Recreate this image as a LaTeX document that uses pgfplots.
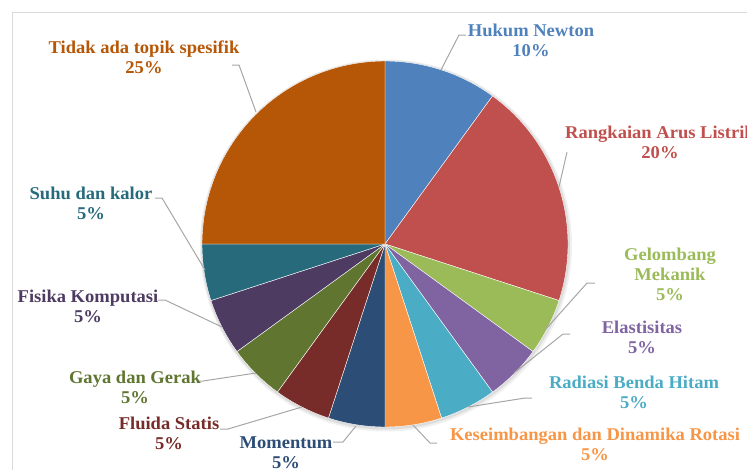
\documentclass[border=0pt]{standalone}
\usepackage{pgfplots}
\pgfplotsset{compat=1.18}
\usepackage{fontspec}
\setmainfont[FakeStretch=1.03]{Liberation Serif}
\definecolor{cNewton}{HTML}{4F81BD}
\definecolor{cListrik}{HTML}{C0504D}
\definecolor{cGel}{HTML}{9BBB59}
\definecolor{cElas}{HTML}{8064A2}
\definecolor{cRad}{HTML}{4BACC6}
\definecolor{cKes}{HTML}{F79646}
\definecolor{cMom}{HTML}{2C4D75}
\definecolor{cFlu}{HTML}{772C2A}
\definecolor{cGaya}{HTML}{5F7530}
\definecolor{cFis}{HTML}{4D3B62}
\definecolor{cSuhu}{HTML}{276A7C}
\definecolor{cTidak}{HTML}{B65708}
\definecolor{leader}{HTML}{A6A6A6}
\definecolor{frame}{HTML}{D9D9D9}
% #1 cumulative start (%), #2 cumulative end (%), #3 colour
\newcommand\slice[3]{%
  \fill[#3, draw=white, line width=0.4pt, line join=round]
    (axis cs:385,244) -- ++({90-3.6*#1}:183pt)
    arc[start angle={90-3.6*#1}, end angle={90-3.6*#2}, radius=183pt] -- cycle;}
\begin{document}
\begin{tikzpicture}
\begin{axis}[at={(0,0)}, anchor=south west, x=1pt, y=1pt,
  xmin=0, xmax=747, ymin=0, ymax=469, y dir=reverse,
  hide axis, clip=false]
% chart frame
\draw[frame, line width=1pt] (axis cs:12.5,480) -- (axis cs:12.5,12.5) -- (axis cs:760,12.5);
% shadow
\fill[black, opacity=0.06] (axis cs:386,245.5) circle[radius=186pt];
\fill[black, opacity=0.08] (axis cs:385.5,245) circle[radius=184.5pt];
% slices (cumulative percentages)
\slice{0}{10}{cNewton}
\slice{10}{30}{cListrik}
\slice{30}{35}{cGel}
\slice{35}{40}{cElas}
\slice{40}{45}{cRad}
\slice{45}{50}{cKes}
\slice{50}{55}{cMom}
\slice{55}{60}{cFlu}
\slice{60}{65}{cGaya}
\slice{65}{70}{cFis}
\slice{70}{75}{cSuhu}
\slice{75}{100}{cTidak}
% leader lines
\begin{scope}[leader, line width=1pt]
\draw (axis cs:232,65) -- (axis cs:239,65) -- (axis cs:256,112);
\draw (axis cs:466,35) -- (axis cs:459,35) -- (axis cs:441,70);
\draw (axis cs:567,152) -- (axis cs:559,187);
\draw (axis cs:595,283) -- (axis cs:587,283) -- (axis cs:546,329);
\draw (axis cs:570,334) -- (axis cs:563,334) -- (axis cs:514,373);
\draw (axis cs:532,398) -- (axis cs:525,398) -- (axis cs:468,407);
\draw (axis cs:413,425) -- (axis cs:430,443) -- (axis cs:437,443);
\draw (axis cs:333,442) -- (axis cs:343,442) -- (axis cs:356,426);
\draw (axis cs:220,429) -- (axis cs:228,429) -- (axis cs:302,407);
\draw (axis cs:197,381) -- (axis cs:203,381) -- (axis cs:256,373);
\draw (axis cs:158,300) -- (axis cs:165,300) -- (axis cs:222,327);
\draw (axis cs:155,198) -- (axis cs:162,198) -- (axis cs:205,270);
\end{scope}
% labels
\begin{scope}[every node/.style={align=center, inner sep=0pt, font=\fontsize{18}{20}\selectfont\bfseries}]
\node[text=cTidak] at (axis cs:144,57) {Tidak ada topik spesifik\\25\%};
\node[text=cNewton] at (axis cs:531,40.5) {Hukum Newton\\10\%};
\node[text=cListrik] at (axis cs:660,142.5) {Rangkaian Arus Listrik\\20\%};
\node[text=cGel] at (axis cs:670,274) {Gelombang\\Mekanik\\5\%};
\node[text=cElas] at (axis cs:642,337) {Elastisitas\\5\%};
\node[text=cRad] at (axis cs:634,392) {Radiasi Benda Hitam\\5\%};
\node[text=cKes] at (axis cs:595,444.5) {Keseimbangan dan Dinamika Rotasi\\5\%};
\node[text=cMom] at (axis cs:286,452.5) {Momentum\\5\%};
\node[text=cFlu] at (axis cs:169,433) {Fluida Statis\\5\%};
\node[text=cGaya] at (axis cs:135,387.5) {Gaya dan Gerak\\5\%};
\node[text=cFis] at (axis cs:88,306.5) {Fisika Komputasi\\5\%};
\node[text=cSuhu] at (axis cs:91,203) {Suhu dan kalor\\5\%};
\end{scope}
\end{axis}
\pgfresetboundingbox
\useasboundingbox (0,0) rectangle (747pt,469pt);
\end{tikzpicture}
\end{document}
